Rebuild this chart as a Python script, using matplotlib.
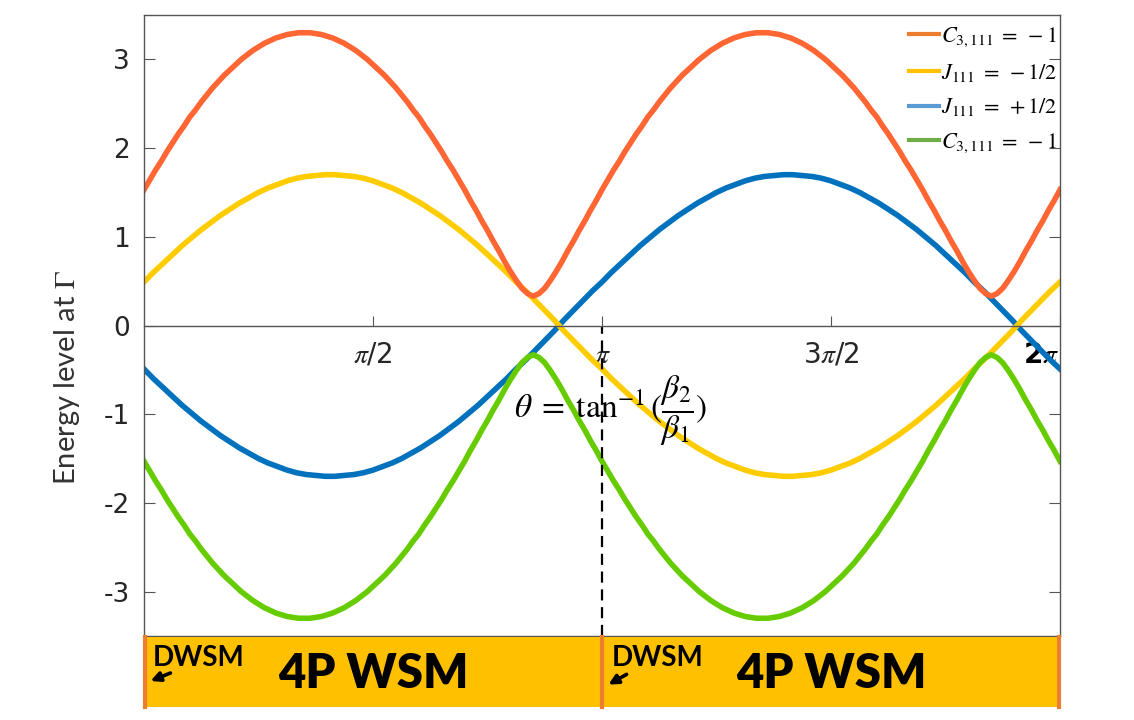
import numpy as np
import matplotlib
matplotlib.use('Agg')
import matplotlib.pyplot as plt
import matplotlib.transforms as mtransforms
from matplotlib.lines import Line2D

plt.rcParams['mathtext.fontset'] = 'stix'
plt.rcParams['axes.unicode_minus'] = False

# theta grids (radians), 0 .. 2pi
theta_c = np.linspace(0, 2 * np.pi, 161)   # C_3 levels
theta_j = np.linspace(0, 2 * np.pi, 97)    # J levels

# energy levels
c3_upper = [1.53, 1.64, 1.75, 1.85, 1.96, 2.06, 2.16, 2.25, 2.35, 2.43,
            2.52, 2.60, 2.68, 2.75, 2.82, 2.88, 2.94, 3.00, 3.05, 3.10,
            3.14, 3.18, 3.21, 3.24, 3.26, 3.28, 3.29, 3.30, 3.30, 3.30,
            3.29, 3.28, 3.26, 3.24, 3.21, 3.18, 3.14, 3.10, 3.05, 3.00,
            2.94, 2.88, 2.82, 2.75, 2.68, 2.60, 2.52, 2.43, 2.35, 2.25,
            2.16, 2.06, 1.96, 1.85, 1.75, 1.64, 1.53, 1.41, 1.30, 1.18,
            1.07, 0.95, 0.84, 0.72, 0.61, 0.51, 0.42, 0.36, 0.33, 0.36,
            0.42, 0.51, 0.61, 0.72, 0.84, 0.95, 1.07, 1.18, 1.30, 1.41,
            1.53, 1.64, 1.75, 1.85, 1.96, 2.06, 2.16, 2.25, 2.35, 2.43,
            2.52, 2.60, 2.68, 2.75, 2.82, 2.88, 2.94, 3.00, 3.05, 3.10,
            3.14, 3.18, 3.21, 3.24, 3.26, 3.28, 3.29, 3.30, 3.30, 3.30,
            3.29, 3.28, 3.26, 3.24, 3.21, 3.18, 3.14, 3.10, 3.05, 3.00,
            2.94, 2.88, 2.82, 2.75, 2.68, 2.60, 2.52, 2.43, 2.35, 2.25,
            2.16, 2.06, 1.96, 1.85, 1.75, 1.64, 1.53, 1.41, 1.30, 1.18,
            1.07, 0.95, 0.84, 0.72, 0.61, 0.51, 0.42, 0.36, 0.33, 0.36,
            0.42, 0.51, 0.61, 0.72, 0.84, 0.95, 1.07, 1.18, 1.30, 1.41,
            1.53]
c3_lower = [-1.53, -1.64, -1.75, -1.85, -1.96, -2.06, -2.16, -2.25, -2.35, -2.43,
            -2.52, -2.60, -2.68, -2.75, -2.82, -2.88, -2.94, -3.00, -3.05, -3.10,
            -3.14, -3.18, -3.21, -3.24, -3.26, -3.28, -3.29, -3.30, -3.30, -3.30,
            -3.29, -3.28, -3.26, -3.24, -3.21, -3.18, -3.14, -3.10, -3.05, -3.00,
            -2.94, -2.88, -2.82, -2.75, -2.68, -2.60, -2.52, -2.43, -2.35, -2.25,
            -2.16, -2.06, -1.96, -1.85, -1.75, -1.64, -1.53, -1.41, -1.30, -1.18,
            -1.07, -0.95, -0.84, -0.72, -0.61, -0.51, -0.42, -0.36, -0.33, -0.36,
            -0.42, -0.51, -0.61, -0.72, -0.84, -0.95, -1.07, -1.18, -1.30, -1.41,
            -1.53, -1.64, -1.75, -1.85, -1.96, -2.06, -2.16, -2.25, -2.35, -2.43,
            -2.52, -2.60, -2.68, -2.75, -2.82, -2.88, -2.94, -3.00, -3.05, -3.10,
            -3.14, -3.18, -3.21, -3.24, -3.26, -3.28, -3.29, -3.30, -3.30, -3.30,
            -3.29, -3.28, -3.26, -3.24, -3.21, -3.18, -3.14, -3.10, -3.05, -3.00,
            -2.94, -2.88, -2.82, -2.75, -2.68, -2.60, -2.52, -2.43, -2.35, -2.25,
            -2.16, -2.06, -1.96, -1.85, -1.75, -1.64, -1.53, -1.41, -1.30, -1.18,
            -1.07, -0.95, -0.84, -0.72, -0.61, -0.51, -0.42, -0.36, -0.33, -0.36,
            -0.42, -0.51, -0.61, -0.72, -0.84, -0.95, -1.07, -1.18, -1.30, -1.41,
            -1.53]
j_minus = [0.49, 0.60, 0.70, 0.80, 0.90, 0.99, 1.08, 1.16, 1.24, 1.31,
           1.38, 1.44, 1.50, 1.55, 1.59, 1.63, 1.66, 1.68, 1.69, 1.70,
           1.70, 1.69, 1.68, 1.66, 1.63, 1.59, 1.55, 1.50, 1.44, 1.38,
           1.31, 1.24, 1.16, 1.08, 0.99, 0.90, 0.80, 0.70, 0.60, 0.49,
           0.39, 0.28, 0.17, 0.06, -0.06, -0.17, -0.28, -0.39,
           -0.49, -0.60, -0.70, -0.80, -0.90, -0.99, -1.08, -1.16, -1.24, -1.31,
           -1.38, -1.44, -1.50, -1.55, -1.59, -1.63, -1.66, -1.68, -1.69, -1.70,
           -1.70, -1.69, -1.68, -1.66, -1.63, -1.59, -1.55, -1.50, -1.44, -1.38,
           -1.31, -1.24, -1.16, -1.08, -0.99, -0.90, -0.80, -0.70, -0.60, -0.49,
           -0.39, -0.28, -0.17, -0.06, 0.06, 0.17, 0.28, 0.39,
           0.49]
j_plus = [-0.49, -0.60, -0.70, -0.80, -0.90, -0.99, -1.08, -1.16, -1.24, -1.31,
          -1.38, -1.44, -1.50, -1.55, -1.59, -1.63, -1.66, -1.68, -1.69, -1.70,
          -1.70, -1.69, -1.68, -1.66, -1.63, -1.59, -1.55, -1.50, -1.44, -1.38,
          -1.31, -1.24, -1.16, -1.08, -0.99, -0.90, -0.80, -0.70, -0.60, -0.49,
          -0.39, -0.28, -0.17, -0.06, 0.06, 0.17, 0.28, 0.39,
          0.49, 0.60, 0.70, 0.80, 0.90, 0.99, 1.08, 1.16, 1.24, 1.31,
          1.38, 1.44, 1.50, 1.55, 1.59, 1.63, 1.66, 1.68, 1.69, 1.70,
          1.70, 1.69, 1.68, 1.66, 1.63, 1.59, 1.55, 1.50, 1.44, 1.38,
          1.31, 1.24, 1.16, 1.08, 0.99, 0.90, 0.80, 0.70, 0.60, 0.49,
          0.39, 0.28, 0.17, 0.06, -0.06, -0.17, -0.28, -0.39,
          -0.49]

legend_labels = [r'$C_{3,111}\;=\;-1$', r'$J_{111}\;=\;-1/2$',
                 r'$J_{111}\;=\;+1/2$', r'$C_{3,111}\;=\;-1$']
legend_colors = ['#ED7D31', '#FFC000', '#5B9BD5', '#70AD47']

xtick_pos = [np.pi / 2, np.pi, 3 * np.pi / 2, 2 * np.pi]
xtick_lab = [r'$\pi$/2', r'$\pi$', r'3$\pi$/2', r'2$\pi$']
ytick_pos = [-3, -2, -1, 0, 1, 2, 3]
ytick_lab = ['-3', '-2', '-1', '0', '1', '2', '3']

fig = plt.figure(figsize=(11.34, 7.2), dpi=100)
ax = fig.add_axes([144 / 1134, 84 / 720, 916 / 1134, 621 / 720])

lw = 4.0
ax.plot(theta_j, j_plus, color='#0072BD', lw=lw, solid_joinstyle='round')
ax.plot(theta_j, j_minus, color='#FFCC00', lw=lw, solid_joinstyle='round')
ax.plot(theta_c, c3_lower, color='#66CC00', lw=lw, solid_joinstyle='round')
ax.plot(theta_c, c3_upper, color='#FF6633', lw=lw, solid_joinstyle='round')

# dashed marker at theta = pi
ax.vlines(np.pi, -3.5, 0, colors='black', linestyles=(0, (5, 3)), lw=1.6)

ax.text(2.538, -1.04, r'$\theta\;=\;\tan^{-1}(\dfrac{\beta_2}{\beta_1})$',
        fontsize=24, ha='left', va='baseline')

ax.set_xlim(0, 2 * np.pi)
ax.set_ylim(-3.5, 3.5)

spc = '#555555'
for s in ax.spines.values():
    s.set_color(spc)
    s.set_linewidth(1.0)
ax.spines['bottom'].set_position(('data', 0))
ax.plot([0, 1], [0, 0], transform=ax.transAxes, color=spc, lw=1.0, clip_on=False)

ax.set_xticks(xtick_pos)
ax.set_xticklabels(xtick_lab, fontsize=20, color='#262626')
ax.set_yticks(ytick_pos)
ax.set_yticklabels(ytick_lab, fontsize=19, color='#262626')
ax.tick_params(axis='x', direction='in', length=7, color=spc, pad=11)
ax.tick_params(axis='y', direction='in', length=8, color=spc, right=True, pad=10)

# the 2pi label is bold and sits a bit left of the corner
lab = ax.get_xticklabels()[-1]
lab.set_fontweight('bold')
lab.set_fontsize(20)
lab.set_color('black')
lab.set_transform(lab.get_transform() + mtransforms.ScaledTranslation(-0.19, 0, fig.dpi_scale_trans))

handles = [Line2D([], [], color=c, lw=3) for c in legend_colors]
ax.legend(handles, legend_labels, loc='upper right', bbox_to_anchor=(1.0, 0.987),
          frameon=False, fontsize=16, handlelength=1.35, handletextpad=0.1,
          labelspacing=0.58, borderaxespad=0.1, borderpad=0)

fig.text(67 / 1134, 1 - 378 / 720, r'Energy level at $\Gamma$', rotation=90,
         ha='center', va='center', fontsize=21, family='Lato', color='#333333')

# phase band under the plot
band = fig.add_axes([144 / 1134, 13 / 720, 916 / 1134, 70 / 720])
band.set_facecolor('#FFC000')
for s in band.spines.values():
    s.set_visible(False)
band.set_xticks([])
band.set_yticks([])
band.set_xlim(0, 2 * np.pi)
band.set_ylim(0, 1)
for xb in [0.01, np.pi, 2 * np.pi - 0.01]:
    band.axvline(xb, color='#ED7D31', lw=3, clip_on=False)

for xc in [np.pi / 2, 3 * np.pi / 2]:
    band.text(xc, 0.47, '4P WSM', fontsize=34, fontweight='heavy', family='Lato',
              ha='center', va='center')
for xd in [0.06, np.pi + 0.07]:
    band.text(xd, 0.586, 'DWSM', fontsize=20, fontweight='bold', family='Lato',
              ha='left', va='baseline')
band.annotate('', xy=(0.027, 0.357), xytext=(0.199, 0.5),
              arrowprops=dict(arrowstyle='-|>', color='black', lw=2.6, mutation_scale=14))
band.annotate('', xy=(3.169, 0.30), xytext=(3.327, 0.486),
              arrowprops=dict(arrowstyle='-|>', color='black', lw=2.6, mutation_scale=14))

fig.savefig('out.png', dpi=100)
